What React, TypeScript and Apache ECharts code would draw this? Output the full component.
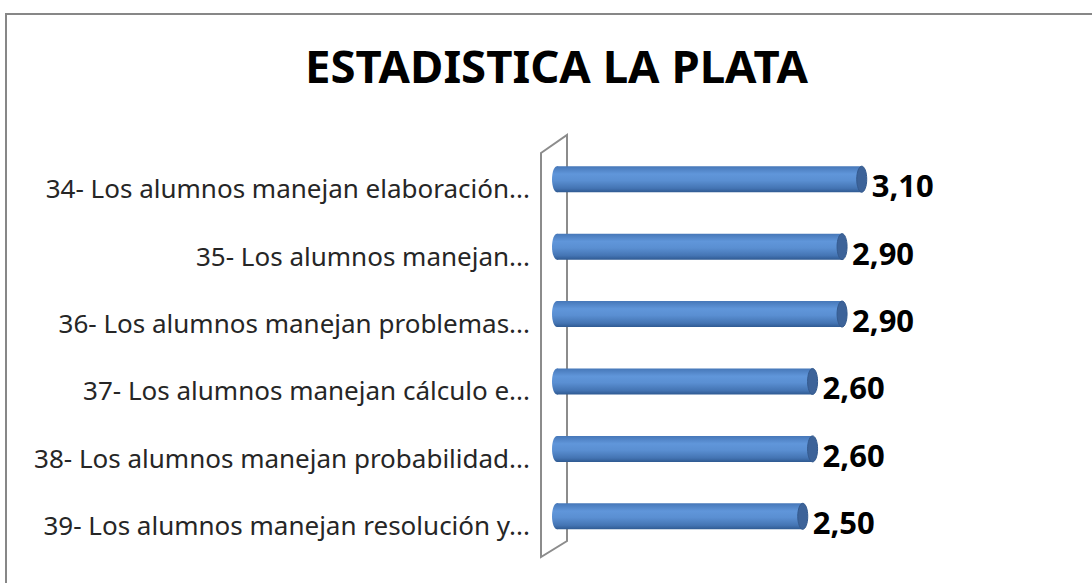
import React, { useEffect, useRef } from "react";
import * as echarts from "echarts";

const titleText = "ESTADISTICA LA PLATA";
const categories = [
  "34- Los alumnos manejan elaboración...",
  "35- Los alumnos manejan...",
  "36- Los alumnos manejan problemas...",
  "37- Los alumnos manejan cálculo e...",
  "38- Los alumnos manejan probabilidad...",
  "39- Los alumnos manejan resolución y...",
];
const values = [3.1, 2.9, 2.9, 2.6, 2.6, 2.5];

const fmt = (v: number) => v.toFixed(2).replace(".", ",");

export default function App() {
  const ref = useRef<HTMLDivElement>(null);
  useEffect(() => {
    document.body.style.margin = "0";
    const chart = echarts.init(ref.current!, null, { renderer: "svg" });
    const barH = 26;
    const rx = 5;
    const option: any = {
      animation: false,
      backgroundColor: "#ffffff",
      title: {
        text: titleText,
        left: 305,
        top: 42,
        padding: 0,
        textStyle: {
          fontFamily: "Noto Sans",
          fontWeight: "bold",
          fontSize: 45.5,
          color: "#000000",
        },
      },
      graphic: [
        {
          type: "rect",
          shape: { x: 6, y: 14, width: 1200, height: 700 },
          style: { fill: "none", stroke: "#878787", lineWidth: 2 },
          silent: true,
        },
        {
          type: "polygon",
          shape: {
            points: [
              [541, 153],
              [567, 135],
              [567, 541],
              [541, 557],
            ],
          },
          style: { fill: "none", stroke: "#8c8c8c", lineWidth: 2 },
          silent: true,
          z: -1,
        },
      ],
      grid: { left: 557, right: 43.5, top: 145.5, bottom: 33 },
      xAxis: {
        type: "value",
        min: 0,
        max: 5,
        show: false,
      },
      yAxis: {
        type: "category",
        data: categories,
        inverse: true,
        axisLine: { show: false },
        axisTick: { show: false },
        splitLine: { show: false },
        axisLabel: {
          margin: 27,
          verticalAlign: "top",
          lineHeight: 18,
          fontFamily: "Noto Sans",
          fontSize: 26,
          color: "#262626",
        },
      },
      series: [
        {
          type: "custom",
          clip: false,
          data: values.map((v, i) => [v, i]),
          renderItem: (params: any, api: any) => {
            const v = api.value(0);
            const c = api.value(1);
            const p0 = api.coord([0, c]);
            const p1 = api.coord([v, c]);
            const grad = new echarts.graphic.LinearGradient(0, 0, 0, 1, [
              { offset: 0, color: "#4677b8" },
              { offset: 0.3, color: "#6096da" },
              { offset: 0.55, color: "#5a8fd2" },
              { offset: 0.85, color: "#4474b3" },
              { offset: 1, color: "#2f5a92" },
            ]);
            return {
              type: "group",
              children: [
                {
                  type: "ellipse",
                  shape: { cx: p0[0], cy: p0[1], rx: rx, ry: barH / 2 },
                  style: { fill: grad },
                },
                {
                  type: "rect",
                  shape: {
                    x: p0[0],
                    y: p0[1] - barH / 2,
                    width: p1[0] - p0[0],
                    height: barH,
                  },
                  style: { fill: grad },
                },
                {
                  type: "ellipse",
                  shape: { cx: p1[0], cy: p1[1], rx: rx, ry: barH / 2 },
                  style: { fill: "#3d6399", stroke: "#345a8e", lineWidth: 1 },
                },
                {
                  type: "text",
                  x: p1[0] + 10,
                  y: p1[1] + 6,
                  style: {
                    text: fmt(v),
                    fontFamily: "Noto Sans",
                    fontWeight: "bold",
                    fontSize: 31,
                    fill: "#000000",
                    verticalAlign: "middle",
                    align: "left",
                  },
                },
              ],
            };
          },
        },
      ],
    };
    chart.setOption(option);
    return () => chart.dispose();
  }, []);
  return <div ref={ref} style={{ width: 1092, height: 583 }} />;
}
